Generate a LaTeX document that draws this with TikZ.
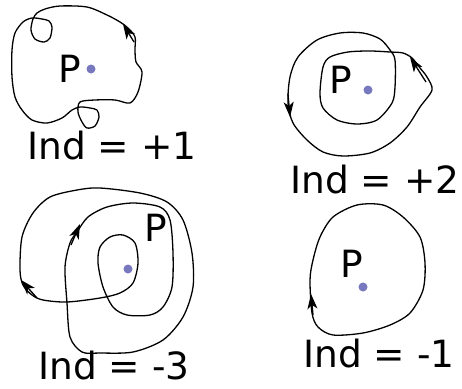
\documentclass[tikz,border=0pt]{standalone}
\usepackage{fontspec}
\setmainfont{DejaVu Sans}
\usetikzlibrary{arrows.meta}
\definecolor{ptblue}{RGB}{120,120,190}

\begin{document}
\begin{tikzpicture}[x=1pt,y=-1pt,
  curve/.style={line width=1.3pt,black},
  arr/.style={line width=1.3pt,-{Stealth[length=15pt,width=10pt,inset=4pt]}},
  lbl/.style={inner sep=0pt,font=\fontsize{37.5}{40}\selectfont},
  pt/.style={circle,fill=ptblue,inner sep=0pt,minimum size=9pt}]
\useasboundingbox (0,0) rectangle (462,388);

% Ind = +1 (two small extra loops)
\draw[curve] plot[smooth cycle,tension=0.5] coordinates {
  (130,103) (138,92) (142,72) (136,62) (135,50) (135,37) (128,28) (120,22)
  (107,15) (87,7) (60,6) (45,9) (37,13) (33,19) (31,30) (35,39) (44,42)
  (50,38) (52,27) (49,21) (42,19) (32,18) (23,22) (15,33) (12,50) (12,77)
  (15,97) (22,110) (32,120) (47,123) (62,118) (72,110) (80,107) (90,108)
  (97,110) (99,117) (95,126) (87,128) (82,122) (78,112) (80,102) (95,100)
  (115,100)};
\draw[arr] (134,42) -- (123,24);

% Ind = +2
\draw[curve] plot[smooth cycle,tension=0.5] coordinates {
  (432,90) (427,77) (420,68) (412,58) (403,53) (390,52) (370,51) (348,52)
  (330,57) (323,67) (320,93) (323,108) (337,120) (357,124) (377,120)
  (392,103) (395,87) (395,60) (390,50) (380,39) (363,33) (340,33) (317,40)
  (298,57) (290,77) (288,103) (293,123) (307,140) (323,152) (343,156)
  (370,153) (390,143) (407,127) (420,107)};
\draw[arr] (426,82) -- (410,57);
\draw[arr] (288,94) -- (290,117);

% Ind = -3
\draw[curve] plot[smooth cycle,tension=0.5] coordinates {
  (50,197) (77,190) (100,188) (140,193) (167,202) (183,220) (192,253)
  (193,287) (183,317) (163,340) (133,352) (100,353) (82,352) (70,337)
  (67,303) (65,267) (70,243) (77,232) (88,217) (107,207) (133,203)
  (160,207) (170,220) (173,253) (172,287) (163,307) (150,315) (127,315)
  (113,307) (103,287) (98,263) (100,247) (110,237) (123,235) (135,243)
  (138,263) (133,283) (120,293) (100,298) (67,302) (43,300) (32,295)
  (23,285) (20,270) (22,237) (33,213)};
\draw[arr] (71,245) -- (80,224);
\draw[arr] (37,298) -- (21,280);

% Ind = -1
\draw[curve] plot[smooth cycle,tension=0.5] coordinates {
  (310,280) (313,260) (320,237) (333,217) (357,205) (383,205) (403,217)
  (420,237) (425,263) (423,290) (410,313) (390,325) (363,333) (333,335)
  (318,327) (312,313)};
\draw[arr] (313,315) -- (311,294);

% points and labels
\node[pt] (p1) at (91,69) {};
\node[pt] (p2) at (368,90) {};
\node[pt] (p3) at (128,269) {};
\node[pt] (p4) at (363,287) {};
\node[lbl] (P1) at (70,69) {P};
\node[lbl] (P2) at (341,80) {P};
\node[lbl] (P3) at (156,228) {P};
\node[lbl] (P4) at (352,264) {P};
\node[lbl] (ind1) at (112,146) {Ind = +1};
\node[lbl] (ind2) at (375,180) {Ind = +2};
\node[lbl] (ind3) at (114,366) {Ind = -3};
\node[lbl] (ind4) at (379,354) {Ind = -1};
\end{tikzpicture}
\end{document}
